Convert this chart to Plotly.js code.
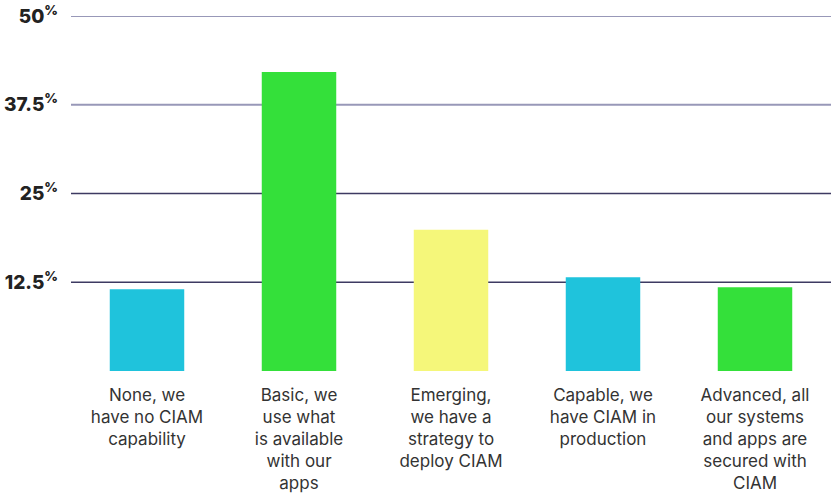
<!DOCTYPE html>
<html>
<head>
<meta charset="utf-8">
<script src="https://cdn.plot.ly/plotly-3.0.1.min.js"></script>
<style>html,body{margin:0;padding:0;background:#fff;}#chart{width:836px;height:499px;}</style>
</head>
<body>
<div id="chart"></div>
<script>
const categories = ["None", "Basic", "Emerging", "Capable", "Advanced"];
const categoryLabels = [
  "None, we<br>have no CIAM<br>capability",
  "Basic, we<br>use what<br>is available<br>with our<br>apps",
  "Emerging,<br>we have a<br>strategy to<br>deploy CIAM",
  "Capable, we<br>have CIAM in<br>production",
  "Advanced, all<br>our systems<br>and apps are<br>secured with<br>CIAM"
];
const values = [11.5, 42.1, 19.9, 13.2, 11.8];
const barColors = ["#1fc3dc", "#34e03a", "#f5f77a", "#1fc3dc", "#34e03a"];
const tickValues = [12.5, 25, 37.5, 50];
const tickLabels = ["12.5<sup>%</sup>", "25<sup>%</sup>", "37.5<sup>%</sup>", "50<sup>%</sup>"];
const gridColors = ["#3d3a62", "#3d3a62", "#9898b8", "#9898b8"];

const shapes = tickValues.map((v, i) => ({
  type: "line", xref: "paper", yref: "y", x0: 0, x1: 1, y0: v, y1: v,
  line: {color: gridColors[i], width: i >= 2 ? 2 : 1.3}, layer: "below"
}));

Plotly.newPlot("chart", [{
  type: "bar",
  x: categories,
  y: values,
  marker: {color: barColors},
  hoverinfo: "none"
}], {
  width: 836, height: 499,
  margin: {l: 71, r: 5, t: 16, b: 128},
  paper_bgcolor: "#fff", plot_bgcolor: "#fff",
  bargap: 0.51,
  showlegend: false,
  shapes: shapes,
  xaxis: {
    type: "category",
    tickmode: "array", tickvals: categories, ticktext: categoryLabels,
    showgrid: false, zeroline: false, showline: false,
    ticks: "", ticklabelstandoff: 12,
    tickfont: {family: "Inter, 'Open Sans', sans-serif", size: 17, color: "#333"}
  },
  yaxis: {
    range: [0, 50],
    tickmode: "array", tickvals: tickValues, ticktext: tickLabels,
    showgrid: false, zeroline: false, showline: false,
    ticks: "", ticklabelstandoff: 12,
    tickfont: {family: "Inter, 'Open Sans', sans-serif", size: 19, color: "#222", weight: 800}
  }
}, {displayModeBar: false, staticPlot: true});
</script>
</body>
</html>
